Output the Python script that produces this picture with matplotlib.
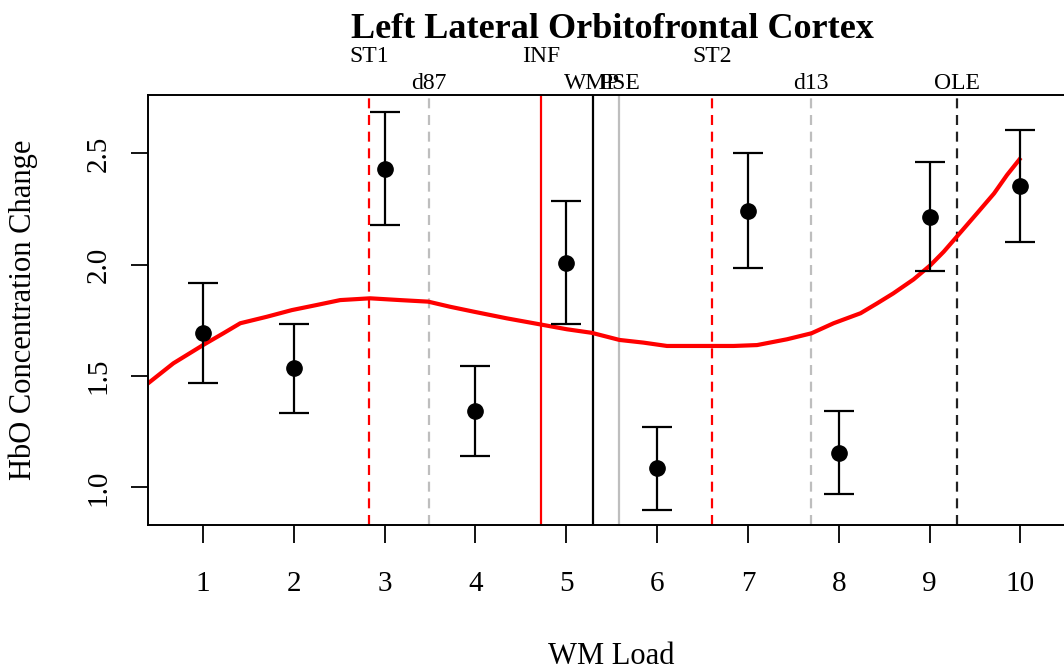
import matplotlib
matplotlib.use("Agg")
import matplotlib.pyplot as plt
from matplotlib.transforms import blended_transform_factory

plt.rcParams['font.family'] = ['Liberation Serif', 'DejaVu Serif']

# WM load levels and mean HbO change with standard errors
loads = [1, 2, 3, 4, 5, 6, 7, 8, 9, 10]
means = [1.692, 1.535, 2.431, 1.344, 2.009, 1.085, 2.242, 1.156, 2.215, 2.353]
errs = [0.225, 0.199, 0.255, 0.203, 0.277, 0.185, 0.259, 0.186, 0.245, 0.251]

# fitted trend curve
fit_x = [0.394, 0.673, 1.0, 1.224, 1.41, 1.701, 1.977, 2.252, 2.51, 2.84,
         3.170, 3.48, 3.721, 3.98, 4.345, 4.71, 5.006, 5.28, 5.586, 5.850,
         6.108, 6.401, 6.60, 6.842, 7.10, 7.430, 7.70, 7.943, 8.24, 8.421,
         8.60, 8.824, 9.01, 9.155, 9.30, 9.523, 9.71, 9.853, 9.99]
fit_y = [1.467, 1.557, 1.639, 1.692, 1.737, 1.766, 1.796, 1.819, 1.841, 1.849,
         1.841, 1.834, 1.811, 1.789, 1.759, 1.732, 1.710, 1.694, 1.662, 1.650,
         1.635, 1.635, 1.635, 1.635, 1.639, 1.665, 1.692, 1.737, 1.782, 1.826,
         1.871, 1.934, 1.998, 2.058, 2.126, 2.231, 2.320, 2.403, 2.473]

# reference markers: (label, position, colour, linestyle, label row)
marker_names = ["ST1", "d87", "INF", "WMP", "PSE", "ST2", "d13", "OLE"]
marker_pos = [2.832, 3.486, 4.72, 5.289, 5.583, 6.604, 7.698, 9.302]
marker_colors = ["red", "#BEBEBE", "red", "black", "#BEBEBE", "red", "#BEBEBE", "#222222"]
marker_styles = ["dashed", "dashed", "solid", "solid", "solid", "dashed", "dashed", "dashed"]
marker_rows = [1, 2, 1, 2, 2, 1, 2, 2]

y_ticks = [1.0, 1.5, 2.0, 2.5]

fig = plt.figure(figsize=(10.64, 6.72), dpi=100)
ax = fig.add_axes([148 / 1064, 1 - 525 / 672, 1 - 148 / 1064, 430 / 672])

ax.set_xlim(0.394, 10.48)
ax.set_ylim(0.831, 2.762)

for name, pos, col, ls in zip(marker_names, marker_pos, marker_colors, marker_styles):
    if ls == "dashed":
        ax.axvline(pos, color=col, lw=1.6, linestyle=(0, (4.5, 3)), zorder=1)
    else:
        ax.axvline(pos, color=col, lw=1.6, zorder=1)

ax.plot(fit_x, fit_y, color="red", lw=3, zorder=2, solid_joinstyle="round")

ax.errorbar(loads, means, yerr=errs, fmt="o", color="black", ms=11,
            ecolor="black", elinewidth=1.6, capsize=11, capthick=1.6, zorder=3)

trans = blended_transform_factory(ax.transData, ax.transAxes)
for name, pos, row in zip(marker_names, marker_pos, marker_rows):
    yrow = 1.0767 if row == 1 else 1.0140
    ax.text(pos, yrow, name, transform=trans, ha="center", va="baseline",
            fontsize=17)

ax.set_xticks(loads)
ax.set_xticklabels([str(v) for v in loads])
ax.set_yticks(y_ticks)
ax.set_yticklabels([f"{v:.1f}" for v in y_ticks], rotation=90, va="center")
ax.tick_params(axis="x", length=13, width=1.3, pad=20, labelsize=21)
ax.tick_params(axis="y", length=12, width=1.3, pad=14, labelsize=21)

for side in ("left", "top", "bottom"):
    ax.spines[side].set_linewidth(1.4)
ax.spines["right"].set_visible(False)

fig.text(611 / 1064, 1 - 657 / 672, "WM Load", ha="center", va="center",
         fontsize=22)
fig.text(23 / 1064, 1 - 310 / 672, "HbO Concentration Change", ha="center",
         va="center", rotation=90, fontsize=22)
fig.text(612 / 1064, 1 - 37.5 / 672, "Left Lateral Orbitofrontal Cortex",
         ha="center", va="baseline", fontsize=26, fontweight="bold")

fig.savefig("out.png", dpi=100)
